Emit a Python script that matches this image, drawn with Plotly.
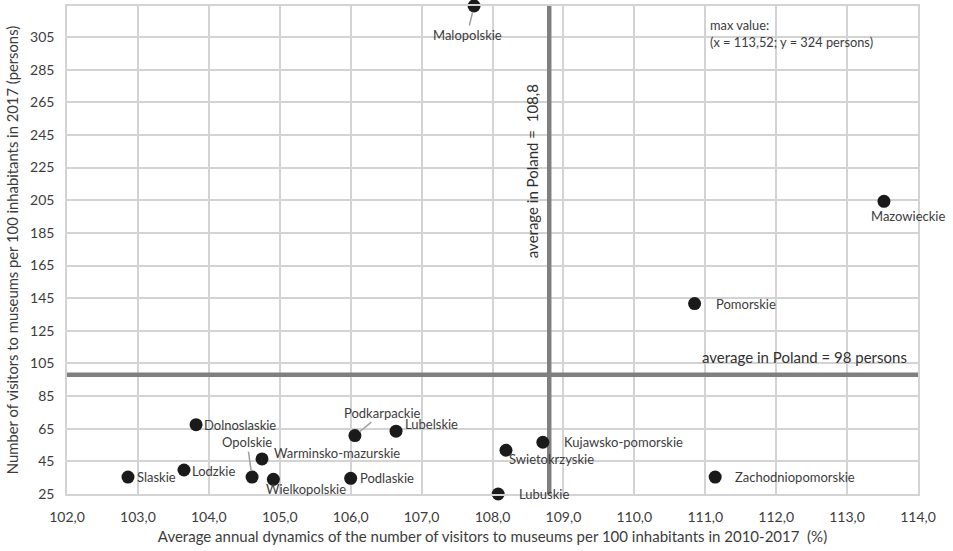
import plotly.graph_objects as go

regions = ["Slaskie", "Lodzkie", "Dolnoslaskie", "Opolskie", "Warminsko-mazurskie",
           "Wielkopolskie", "Podkarpackie", "Lubelskie", "Podlaskie", "Lubuskie",
           "Swietokrzyskie", "Kujawsko-pomorskie", "Pomorskie", "Zachodniopomorskie",
           "Mazowieckie", "Malopolskie"]
dynamics = [102.86, 103.65, 103.82, 104.61, 104.75, 104.91, 106.06, 106.64, 106.00,
            108.08, 108.19, 108.71, 110.85, 111.14, 113.52, 107.74]
visitors = [35.4, 39.7, 67.5, 35.4, 46.5, 34.0, 60.8, 63.5, 34.6,
            25.0, 51.8, 56.7, 141.7, 35.4, 204.3, 324.0]
avg_x = 108.8
avg_y = 98
x_range = [102, 114]
y_range = [25, 324]
x_ticks = [102, 103, 104, 105, 106, 107, 108, 109, 110, 111, 112, 113, 114]
y_ticks = [25, 45, 65, 85, 105, 125, 145, 165, 185, 205, 225, 245, 265, 285, 305]

# label placement (pixels): (mode, anchor, dx, dy)  mode "s" = shifted text, "a" = leader line
label_style = {
    "Slaskie": ("s", "left", 7, 0),
    "Lodzkie": ("s", "left", 6, -1),
    "Dolnoslaskie": ("s", "left", 6, 0),
    "Opolskie": ("a", "center", -5, -35),
    "Warminsko-mazurskie": ("s", "left", 10, 6),
    "Wielkopolskie": ("s", "left", -9, -10),
    "Podkarpackie": ("a", "center", 28, -23),
    "Lubelskie": ("s", "left", 7, 7),
    "Podlaskie": ("s", "left", 7, 0),
    "Lubuskie": ("s", "left", 19, 0),
    "Swietokrzyskie": ("s", "left", 1, -9),
    "Kujawsko-pomorskie": ("s", "left", 19, 0),
    "Pomorskie": ("s", "left", 19, 0),
    "Zachodniopomorskie": ("s", "left", 18, 0),
    "Mazowieckie": ("s", "center", 24, -15),
    "Malopolskie": ("a", "center", -7, 29),
}

FONT = "Lato"
TXT = "#3c3c3c"
GRID = "#d3d3d3"
AVG = "#7f7f7f"

fig = go.Figure()
# average lines (drawn through the axes)
fig.add_trace(go.Scatter(x=[avg_x, avg_x], y=y_range, mode="lines",
                         line=dict(color=AVG, width=4.5), showlegend=False, hoverinfo="skip"))
fig.add_trace(go.Scatter(x=x_range, y=[avg_y, avg_y], mode="lines",
                         line=dict(color=AVG, width=4.5), showlegend=False, hoverinfo="skip"))
fig.add_trace(go.Scatter(
    x=dynamics, y=visitors, mode="markers",
    marker=dict(size=13, color="#1a1a1a"),
    cliponaxis=False, showlegend=False, hoverinfo="text", text=regions))

for name, xv, yv in zip(regions, dynamics, visitors):
    mode, anchor, dx, dy = label_style[name]
    if mode == "s":
        fig.add_annotation(x=xv, y=yv, xref="x", yref="y", text=name, showarrow=False,
                           xanchor=anchor, yanchor="middle", xshift=dx, yshift=dy,
                           font=dict(family=FONT, size=13, color=TXT))
    else:
        fig.add_annotation(x=xv, y=yv, xref="x", yref="y", text=name, showarrow=True,
                           arrowhead=0, arrowwidth=1.5, arrowcolor="#a0a0a0",
                           ax=dx, ay=dy, standoff=6,
                           font=dict(family=FONT, size=13, color=TXT))

fig.add_annotation(x=112.4, y=avg_y, xref="x", yref="y", text="average in Poland = 98 persons",
                   showarrow=False, xanchor="center", yanchor="bottom", yshift=7,
                   font=dict(family=FONT, size=15, color="#303030"))
fig.add_annotation(x=avg_x, y=0.662, xref="x", yref="paper", text="average in Poland =  108,8",
                   showarrow=False, textangle=-90, xanchor="right", yanchor="middle", xshift=-6,
                   font=dict(family=FONT, size=15, color="#303030"))
fig.add_annotation(x=111.0, y=1, xref="x", yref="paper",
                   text="max value:<br>(x = 113,52; y = 324 persons)",
                   showarrow=False, xanchor="left", yanchor="top", align="left",
                   xshift=3, yshift=-9,
                   font=dict(family=FONT, size=12.8, color=TXT))

fig.update_layout(
    width=953, height=551,
    margin=dict(l=67, r=35, t=6, b=57),
    plot_bgcolor="white", paper_bgcolor="white",
    separators=",.",
    font=dict(family=FONT, color=TXT),
    xaxis=dict(range=x_range, tickvals=x_ticks, tickformat=".1f",
               showgrid=True, gridcolor=GRID, gridwidth=1.5,
               showline=True, linecolor=GRID, linewidth=1.5, mirror=True,
               zeroline=False, ticks="", ticklabelstandoff=9, automargin=False,
               tickfont=dict(family=FONT, size=14, color=TXT),
               title=dict(text="Average annual dynamics of the number of visitors to museums per 100 inhabitants in 2010-2017  (%)",
                          font=dict(family=FONT, size=15, color=TXT), standoff=8)),
    yaxis=dict(range=y_range, tickvals=y_ticks, automargin=False,
               showgrid=True, gridcolor=GRID, gridwidth=1.5,
               showline=True, linecolor=GRID, linewidth=1.5, mirror=True,
               zeroline=False, ticks="", ticklabelstandoff=8,
               tickfont=dict(family=FONT, size=14, color=TXT),
               title=dict(text="Number of visitors to museums per 100 inhabitants in 2017 (persons)",
                          font=dict(family=FONT, size=14.8, color=TXT), standoff=8)),
)

fig.write_html("out.html", config={"displayModeBar": False},
               post_script="document.body.style.margin='0';")
